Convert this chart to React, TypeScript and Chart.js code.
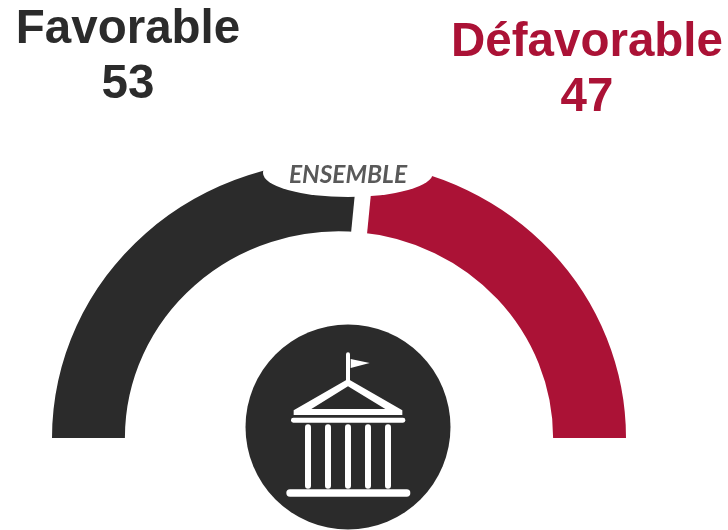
import React, { useEffect, useRef } from "react";
import { Chart, registerables } from "chart.js";

Chart.register(...registerables);

const categories = ["Favorable", "Défavorable"];
const values = [53, 47];
const colors = ["#2b2b2b", "#ab1236"];
const centerLabel = "ENSEMBLE";

const headingStyle = (cx: number, top: number, color: string): React.CSSProperties => ({
  position: "absolute",
  left: cx - 200,
  top,
  width: 400,
  textAlign: "center",
  fontFamily: "'Liberation Sans', Arial, sans-serif",
  fontWeight: 700,
  fontSize: 47.5,
  lineHeight: "55px",
  color,
  whiteSpace: "nowrap",
});

const decorations = {
  id: "decorations",
  beforeDatasetsDraw(chart: any) {
    const ctx = chart.ctx as CanvasRenderingContext2D;
    const arc = chart.getDatasetMeta(0).data[0];
    ctx.save();
    ctx.translate(arc.x, arc.y);
    ctx.scale(1, 0.965);
    ctx.translate(-arc.x, -arc.y);
  },
  afterDatasetsDraw(chart: any) {
    const ctx = chart.ctx as CanvasRenderingContext2D;
    const arc = chart.getDatasetMeta(0).data[0];
    const ax = arc.x;
    const ay = arc.y;

    // white gap along the boundary between the two segments
    ctx.strokeStyle = "#ffffff";
    ctx.lineWidth = 16;
    ctx.beginPath();
    ctx.moveTo(ax + Math.cos(arc.endAngle) * (arc.innerRadius - 3), ay + Math.sin(arc.endAngle) * (arc.innerRadius - 3));
    ctx.lineTo(ax + Math.cos(arc.endAngle) * (arc.outerRadius + 3), ay + Math.sin(arc.endAngle) * (arc.outerRadius + 3));
    ctx.stroke();
    ctx.restore();

    ctx.save();
    // label plate cutting the top of the ring
    ctx.fillStyle = "#ffffff";
    ctx.beginPath();
    ctx.ellipse(ax + 9, ay - 265, 85, 24, 0, 0, Math.PI * 2);
    ctx.fill();
    ctx.fillStyle = "#595959";
    ctx.font = "italic 700 24.5px Lato, sans-serif";
    ctx.textAlign = "center";
    ctx.textBaseline = "middle";
    ctx.fillText(centerLabel, ax + 9, ay - 263);

    // round badge
    const cx = ax + 9;
    const cy = ay - 11;
    ctx.fillStyle = "#2b2b2b";
    ctx.beginPath();
    ctx.arc(cx, cy, 102.5, 0, Math.PI * 2);
    ctx.fill();

    // building icon, in offsets from the badge centre
    const u = (v: number) => v / 3;
    ctx.fillStyle = "#ffffff";
    const rr = (x: number, y: number, w: number, h: number, r: number) => {
      ctx.beginPath();
      ctx.roundRect(cx + u(x), cy + u(y), u(w), u(h), u(r));
      ctx.fill();
    };
    rr(-6, -224, 12, 90, 6);
    ctx.beginPath();
    ctx.moveTo(cx + u(8), cy + u(-204));
    ctx.lineTo(cx + u(65), cy + u(-192));
    ctx.lineTo(cx + u(8), cy + u(-177));
    ctx.closePath();
    ctx.fill();
    ctx.beginPath();
    ctx.moveTo(cx, cy + u(-144));
    ctx.lineTo(cx + u(163), cy + u(-50));
    ctx.lineTo(cx + u(163), cy + u(-36));
    ctx.lineTo(cx + u(-163), cy + u(-36));
    ctx.lineTo(cx + u(-163), cy + u(-50));
    ctx.closePath();
    ctx.moveTo(cx, cy + u(-122));
    ctx.lineTo(cx + u(-110), cy + u(-54));
    ctx.lineTo(cx + u(112), cy + u(-54));
    ctx.closePath();
    ctx.fill("evenodd");
    rr(-171, -28, 343, 15, 7);
    [-120, -60, 0, 60, 120].forEach((x) => rr(x - 9, -8, 18, 193, 9));
    rr(-185, 187, 372, 22, 11);
    ctx.restore();
  },
};

export default function App() {
  const ref = useRef<HTMLCanvasElement>(null);

  useEffect(() => {
    const chart = new Chart(ref.current!, {
      type: "doughnut",
      data: {
        labels: categories,
        datasets: [{ data: values, backgroundColor: colors, borderWidth: 0 }],
      },
      options: {
        responsive: false,
        animation: false,
        rotation: -90,
        circumference: 180,
        cutout: "74.6%",
        layout: { padding: { left: 52, right: 102, top: 151, bottom: 92 } },
        plugins: { legend: { display: false }, tooltip: { enabled: false } },
      },
      plugins: [decorations],
    } as any);
    return () => chart.destroy();
  }, []);

  return (
    <div style={{ position: "absolute", left: 0, top: 0, width: 728, height: 530, background: "#fff", overflow: "hidden" }}>
      <canvas ref={ref} width={728} height={530} style={{ position: "absolute", left: 0, top: 0 }} />
      <div style={headingStyle(128, -1, colors[0])}>
        {categories[0]}
        <br />
        {values[0]}
      </div>
      <div style={headingStyle(587, 12, colors[1])}>
        {categories[1]}
        <br />
        {values[1]}
      </div>
    </div>
  );
}
